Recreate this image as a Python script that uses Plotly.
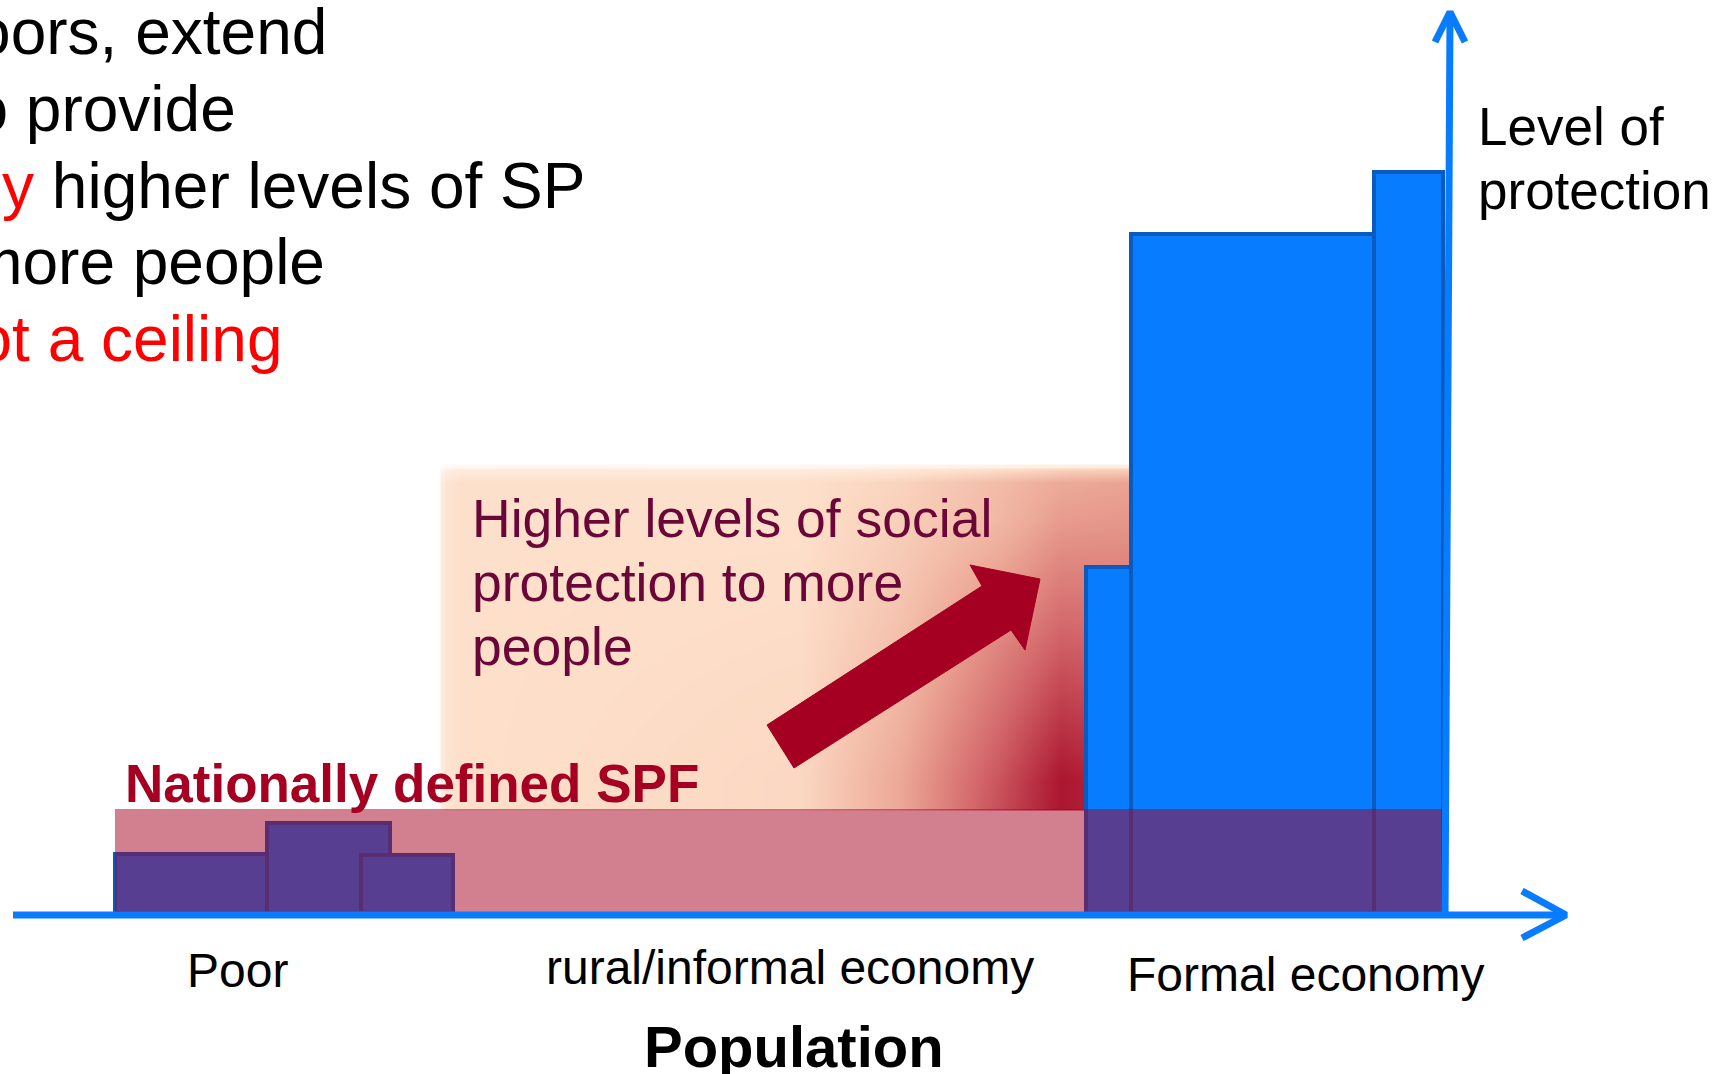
import plotly.graph_objects as go

# ---------------- data (pixel-space x, level = height above the population axis) ----------------
BASE_PX = 913  # population axis (level 0) in page pixels

poor_left = [115, 267, 361]
poor_right = [267, 390, 453]
poor_level = [59, 90, 58]

formal_left = [1086, 1131, 1374]
formal_right = [1131, 1374, 1443]
formal_level = [346, 679, 741]

spf_left = 115
spf_right = 1443
spf_level = 104

# gradient panel behind "Higher levels of social protection" (intensity)
grad_x = [442, 445, 460, 800, 900, 1000, 1060, 1128, 1131]
grad_y_px = [466, 469, 482, 520, 650, 780, 806, 809]
grad_z = [
    [0.02, 0.03, 0.04, 0.05, 0.06, 0.08, 0.10, 0.10, 0.10],
    [0.06, 0.10, 0.12, 0.12, 0.14, 0.20, 0.25, 0.27, 0.27],
    [0.12, 0.16, 0.19, 0.19, 0.25, 0.36, 0.44, 0.47, 0.47],
    [0.12, 0.16, 0.19, 0.19, 0.27, 0.38, 0.50, 0.52, 0.52],
    [0.12, 0.16, 0.19, 0.21, 0.35, 0.60, 0.75, 0.72, 0.72],
    [0.12, 0.16, 0.19, 0.23, 0.45, 0.78, 1.00, 0.92, 0.92],
    [0.12, 0.16, 0.19, 0.23, 0.45, 0.80, 1.00, 0.92, 0.92],
    [0.12, 0.16, 0.19, 0.23, 0.45, 0.80, 1.00, 0.92, 0.92],
]

# big red arrow outline (pixel coords)
arrow_x = [767, 982, 970, 1040, 1025, 1011, 794, 767]
arrow_y_px = [725, 586, 565, 579, 650, 630, 768, 725]

category_labels = ["Poor", "rural/informal economy", "Formal economy"]
category_x = [237, 790, 1305]
category_y_px = [970, 967, 974]

FONT = "Liberation Sans, Arial, sans-serif"
BLUE = "#087CFF"
BLUE_EDGE = "#0A5BC0"
DARKRED = "#A50021"


def lv(px):
    return BASE_PX - px


fig = go.Figure()

# gradient panel
fig.add_trace(go.Heatmap(
    x=grad_x,
    y=[lv(v) for v in grad_y_px][::-1],
    z=grad_z[::-1],
    zmin=0, zmax=1, zsmooth="best", showscale=False, hoverinfo="skip",
    colorscale=[[0, "rgb(255,255,255)"], [0.2, "rgb(253,222,200)"],
                [0.45, "rgb(236,168,150)"], [0.7, "rgb(212,105,108)"],
                [1, "rgb(172,22,48)"]],
))

# formal economy bars
fig.add_trace(go.Bar(
    x=[(a + b) / 2 for a, b in zip(formal_left, formal_right)],
    width=[b - a for a, b in zip(formal_left, formal_right)],
    y=formal_level, base=0,
    marker=dict(color=BLUE, line=dict(color=BLUE_EDGE, width=4)),
    hoverinfo="skip", showlegend=False,
))

# poor bars
fig.add_trace(go.Bar(
    x=[(a + b) / 2 for a, b in zip(poor_left, poor_right)],
    width=[b - a for a, b in zip(poor_left, poor_right)],
    y=poor_level, base=0,
    marker=dict(color=BLUE, line=dict(color=BLUE_EDGE, width=4)),
    hoverinfo="skip", showlegend=False,
))

# nationally defined SPF band
fig.add_trace(go.Bar(
    x=[(spf_left + spf_right) / 2], width=[spf_right - spf_left],
    y=[spf_level], base=0,
    marker=dict(color="rgba(165,0,33,0.5)", line=dict(width=0)),
    hoverinfo="skip", showlegend=False,
))

# red arrow
fig.add_trace(go.Scatter(
    x=arrow_x, y=[lv(v) for v in arrow_y_px], mode="lines", fill="toself",
    fillcolor=DARKRED, line=dict(color=DARKRED, width=1),
    hoverinfo="skip", showlegend=False,
))

# axes with arrow heads
axis_line = dict(color=BLUE, width=7)
fig.add_trace(go.Scatter(x=[13, 1564], y=[-2, -2], mode="lines", line=axis_line,
                         hoverinfo="skip", showlegend=False))
fig.add_trace(go.Scatter(x=[1522, 1566, 1522], y=[lv(891), -2, lv(938)], mode="lines",
                         line=axis_line, hoverinfo="skip", showlegend=False))
fig.add_trace(go.Scatter(x=[1445, 1450], y=[-5, lv(14)], mode="lines", line=axis_line,
                         hoverinfo="skip", showlegend=False))
fig.add_trace(go.Scatter(x=[1435, 1450, 1465], y=[lv(42), lv(12), lv(42)], mode="lines",
                         line=axis_line, hoverinfo="skip", showlegend=False))

annotations = []


def txt(text, x, y_px, size, color="black", xanchor="left", bold=False):
    annotations.append(dict(
        text=f"<b>{text}</b>" if bold else text, x=x, y=lv(y_px), xref="x", yref="y",
        xanchor=xanchor, yanchor="middle", showarrow=False,
        font=dict(family=FONT, size=size, color=color),
    ))


# top-left statement (cut by the left border as in the slide)
txt("Build floors, extend", 329, 32, 64, xanchor="right")
txt("upwards to provide", 238, 109, 64, xanchor="right")
txt('<span style="color:#FF0000">progressively</span> higher levels of SP', 587, 186, 64, xanchor="right")
txt("to more people", 327, 262, 64, xanchor="right")
txt("a floor, not a ceiling", 284, 339, 64, color="#FF0000", xanchor="right")

# gradient panel text
for line, ypx in zip(["Higher levels of social", "protection to more", "people"], [518, 582, 646]):
    txt(line, 470, ypx, 53.5, color="#6A0638")

txt("Nationally defined SPF", 123, 783, 53, color=DARKRED, bold=True)

txt("Level of", 1476, 126, 53)
txt("protection", 1476, 190, 53)

for lab, cx, cy in zip(category_labels, category_x, category_y_px):
    txt(lab, cx, cy, 48, xanchor="center")

txt("Population", 794, 1046, 58, xanchor="center", bold=True)

fig.update_layout(
    width=1719, height=1074,
    margin=dict(l=0, r=0, t=0, b=0),
    paper_bgcolor="white", plot_bgcolor="white",
    barmode="overlay", bargap=0,
    xaxis=dict(range=[0, 1719], visible=False, fixedrange=True),
    yaxis=dict(range=[BASE_PX - 1074, BASE_PX], visible=False, fixedrange=True),
    annotations=annotations,
    showlegend=False,
)

fig.write_html("out.html", config={"displayModeBar": False},
               post_script="document.body.style.margin='0';document.body.style.overflow='hidden';")
